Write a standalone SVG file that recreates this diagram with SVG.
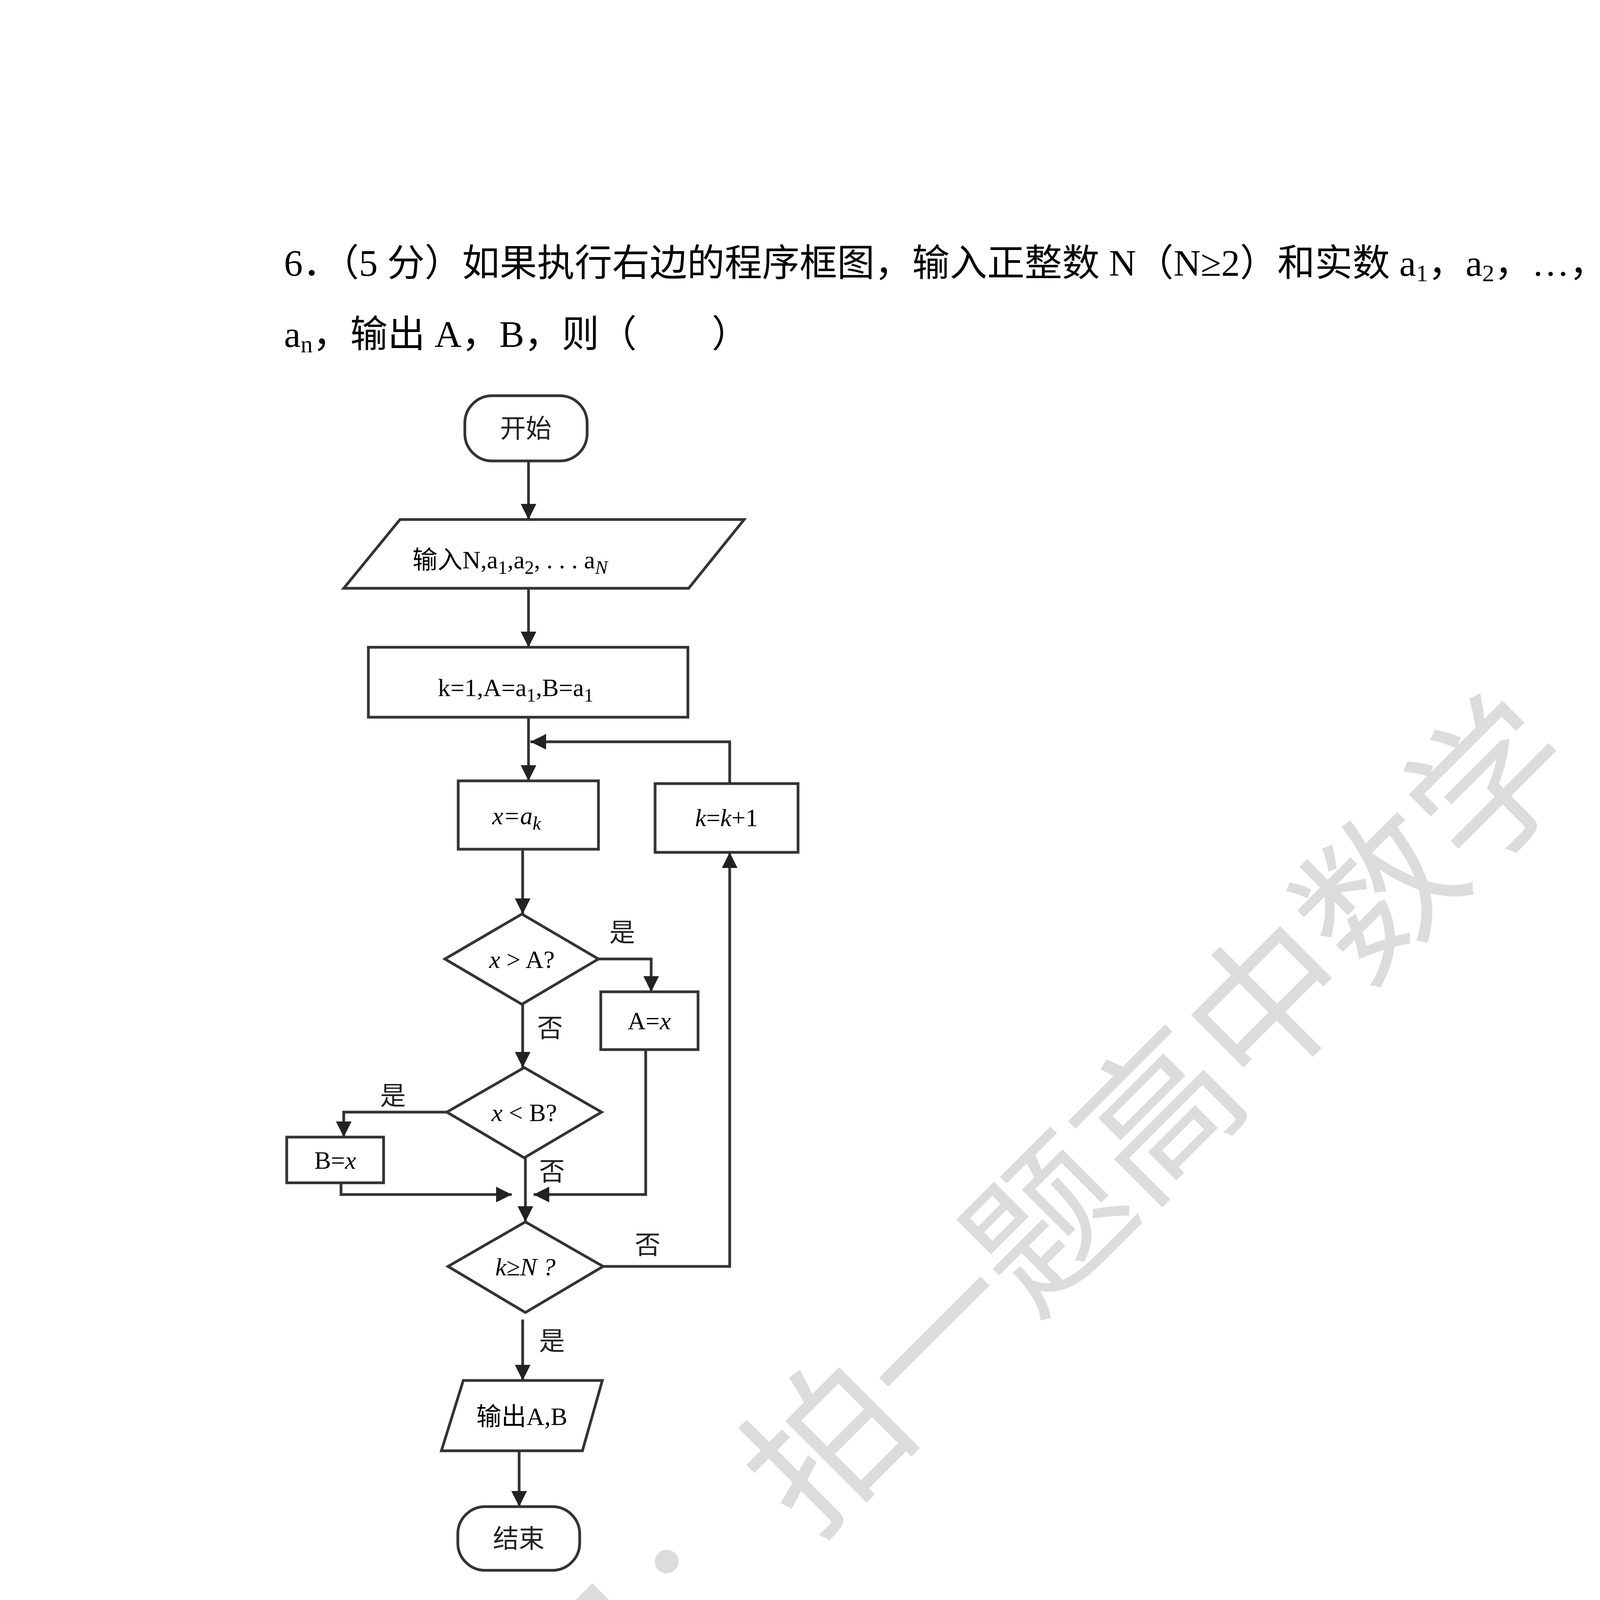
<svg xmlns="http://www.w3.org/2000/svg" width="4762" height="6735" viewBox="0 0 4762 6735">
<style>
.t{font-family:"Liberation Serif","Noto Sans CJK SC",serif;fill:#000}
.q{font-size:96px}
.f{font-size:64px}
.c{font-family:"Noto Sans CJK SC",sans-serif;font-size:66px;fill:#222}
.s{fill:#fff;stroke:#333;stroke-width:7}
.l{fill:none;stroke:#333;stroke-width:7}
</style>
<defs>
<marker id="a" viewBox="0 0 10 10" refX="10" refY="5" markerWidth="40" markerHeight="40" markerUnits="userSpaceOnUse" orient="auto"><path d="M0,0 L10,5 L0,10 z" fill="#222"/></marker></defs>
<rect width="4762" height="6735" fill="#fff"/>
<text transform="translate(2425,3443) rotate(-45)" text-anchor="middle" dominant-baseline="middle" font-family="Noto Sans CJK SC,sans-serif" font-size="400" fill="#dcdcdc">公众号：拍一题高中数学</text>
<g id="question">
<text class="t q" x="727" y="706">6．（5 分）如果执行右边的程序框图，输入正整数 N（N≥2）和实数 a<tspan font-size="62" dy="14">1</tspan><tspan dy="-14">，a</tspan><tspan font-size="62" dy="14">2</tspan><tspan dy="-14">，…，</tspan></text>
<text class="t q" x="727" y="888">a<tspan font-size="62" dy="14">n</tspan><tspan dy="-14">，输出 A，B，则（　　）</tspan></text>
</g>
<g id="connectors">
<path class="l" d="M1353,1180 V1330" marker-end="url(#a)"/>
<path class="l" d="M1353,1506 V1657" marker-end="url(#a)"/>
<path class="l" d="M1353,1836 V1999" marker-end="url(#a)"/>
<path class="l" d="M1868,2006 V1899 H1358" marker-end="url(#a)"/>
<path class="l" d="M1338,2174 V2340" marker-end="url(#a)"/>
<path class="l" d="M1532,2455 H1667 V2539" marker-end="url(#a)"/>
<path class="l" d="M1338,2571 V2733" marker-end="url(#a)"/>
<path class="l" d="M1144,2847 H880 V2911" marker-end="url(#a)"/>
<path class="l" d="M873,3028 V3058 H1310" marker-end="url(#a)"/>
<path class="l" d="M1653,2687 V3058 H1366" marker-end="url(#a)"/>
<path class="l" d="M1345,2964 V3128" marker-end="url(#a)"/>
<path class="l" d="M1544,3242 H1868 V2182" marker-end="url(#a)"/>
<path class="l" d="M1338,3378 V3534" marker-end="url(#a)"/>
<path class="l" d="M1329,3714 V3857" marker-end="url(#a)"/>
<text class="c" x="1560" y="2410">是</text>
<text class="c" x="1375" y="2655">否</text>
<text class="c" x="973" y="2828">是</text>
<text class="c" x="1380" y="3022">否</text>
<text class="c" x="1625" y="3210">否</text>
<text class="c" x="1380" y="3456">是</text>
</g>
<g id="start"><rect class="s" x="1190" y="1013" width="313" height="167" rx="70"/><text class="c" x="1346" y="1120" text-anchor="middle">开始</text></g>
<g id="input"><path class="s" d="M1024,1330 H1905 L1763,1506 H880 Z"/><text class="t f" x="1056" y="1455"><tspan font-family="Noto Sans CJK SC">输入</tspan>N,a<tspan font-size="48" dy="14">1</tspan><tspan dy="-14">,a</tspan><tspan font-size="48" dy="14">2</tspan><tspan dy="-14">, . . . a</tspan><tspan font-size="48" dy="14" font-style="italic">N</tspan></text></g>
<g id="init"><rect class="s" x="943" y="1657" width="818" height="179"/><text class="t f" x="1121" y="1782">k=1,A=a<tspan font-size="48" dy="14">1</tspan><tspan dy="-14">,B=a</tspan><tspan font-size="48" dy="14">1</tspan></text></g>
<g id="xak"><rect class="s" x="1173" y="1999" width="359" height="175"/><text class="t f" x="1260" y="2110" font-style="italic">x=a<tspan font-size="48" dy="14">k</tspan></text></g>
<g id="kinc"><rect class="s" x="1677" y="2006" width="366" height="176"/><text class="t f" x="1860" y="2115" text-anchor="middle"><tspan font-style="italic">k</tspan>=<tspan font-style="italic">k</tspan>+1</text></g>
<g id="d1"><path class="s" d="M1336,2340 L1532,2455 L1336,2571 L1139,2455 Z"/><text class="t f" x="1336" y="2478" text-anchor="middle"><tspan font-style="italic">x</tspan> &gt; A?</text></g>
<g id="ax"><rect class="s" x="1538" y="2539" width="249" height="148"/><text class="t f" x="1662" y="2635" text-anchor="middle">A=<tspan font-style="italic">x</tspan></text></g>
<g id="d2"><path class="s" d="M1342,2733 L1540,2847 L1342,2964 L1144,2847 Z"/><text class="t f" x="1342" y="2870" text-anchor="middle"><tspan font-style="italic">x</tspan> &lt; B?</text></g>
<g id="bx"><rect class="s" x="734" y="2911" width="248" height="117"/><text class="t f" x="858" y="2992" text-anchor="middle">B=<tspan font-style="italic">x</tspan></text></g>
<g id="d3"><path class="s" d="M1345,3128 L1544,3242 L1345,3360 L1147,3242 Z"/><text class="t f" x="1345" y="3265" text-anchor="middle" font-style="italic">k≥N ?</text></g>
<g id="output"><path class="s" d="M1186,3534 H1542 L1491,3714 H1130 Z"/><text class="t f" x="1336" y="3648" text-anchor="middle"><tspan font-family="Noto Sans CJK SC">输出</tspan>A,B</text></g>
<g id="end"><rect class="s" x="1172" y="3857" width="312" height="163" rx="70"/><text class="c" x="1328" y="3962" text-anchor="middle">结束</text></g>
<g id="options">
<text class="t q" x="727" y="4210">A．A+B 为 a<tspan font-size="62" dy="14">1</tspan><tspan dy="-14">，a</tspan><tspan font-size="62" dy="14">2</tspan><tspan dy="-14">，…，a</tspan><tspan font-size="62" dy="14">n</tspan><tspan dy="-14">的和</tspan></text>
<text class="t q" x="727" y="4405">B．</text>
<text class="t" x="950" y="4370" font-size="64" text-anchor="middle">A+B</text>
<line x1="885" y1="4390" x2="1015" y2="4390" stroke="#222" stroke-width="5"/>
<text class="t" x="950" y="4475" font-size="64" text-anchor="middle">2</text>
<text class="t q" x="1020" y="4405">为 a<tspan font-size="62" dy="14">1</tspan><tspan dy="-14">，a</tspan><tspan font-size="62" dy="14">2</tspan><tspan dy="-14">，…，a</tspan><tspan font-size="62" dy="14">n</tspan><tspan dy="-14">的算术平均数</tspan></text>
<text class="t q" x="727" y="4640">C．A 和 B 分别是 a<tspan font-size="62" dy="14">1</tspan><tspan dy="-14">，a</tspan><tspan font-size="62" dy="14">2</tspan><tspan dy="-14">，…，a</tspan><tspan font-size="62" dy="14">n</tspan><tspan dy="-14">中最大的数和最小的数</tspan></text>
<text class="t q" x="727" y="4825">D．A 和 B 分别是 a<tspan font-size="62" dy="14">1</tspan><tspan dy="-14">，a</tspan><tspan font-size="62" dy="14">2</tspan><tspan dy="-14">，…，a</tspan><tspan font-size="62" dy="14">n</tspan><tspan dy="-14">中最小的数和最大的数</tspan></text>
</g>
</svg>
